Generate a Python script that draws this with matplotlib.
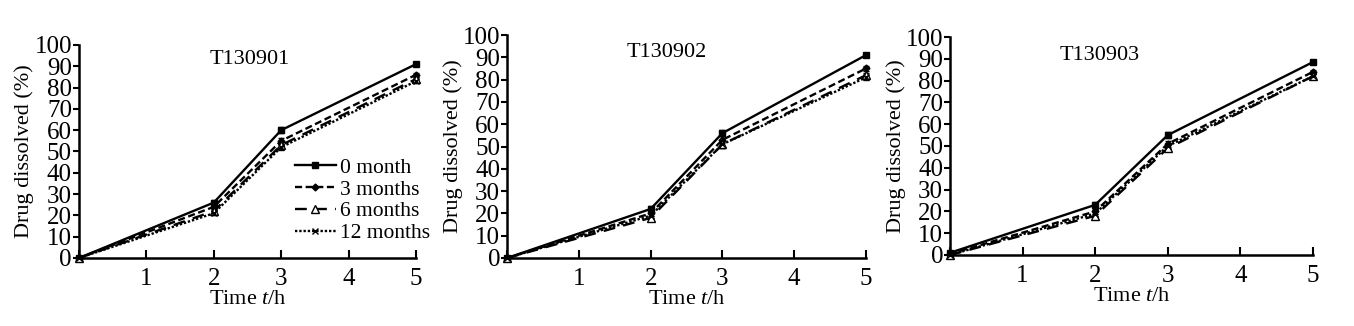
import matplotlib.pyplot as plt
from matplotlib.lines import Line2D

plt.rcParams['font.family'] = 'Liberation Serif'
plt.rcParams['mathtext.fontset'] = 'custom'
plt.rcParams['mathtext.it'] = 'Liberation Serif:italic'
plt.rcParams['mathtext.rm'] = 'Liberation Serif'

time_h = [0, 2, 3, 5]
series_names = ['0 month', '3 months', '6 months', '12 months']
batches = ['T130901', 'T130902', 'T130903']

# dissolved % per batch, per storage time
t130901_0m = [0, 26, 60, 91]
t130901_3m = [0, 24, 55, 86]
t130901_6m = [0, 22, 53, 84]
t130901_12m = [0, 21, 52, 83]

t130902_0m = [0, 22, 56, 91]
t130902_3m = [0, 20, 53, 85]
t130902_6m = [0, 18, 51, 82]
t130902_12m = [0, 19, 51, 81]

t130903_0m = [1, 23, 55, 88.5]
t130903_3m = [0.5, 20, 51, 84]
t130903_6m = [0, 18, 49, 82]
t130903_12m = [0, 19, 50, 82]

# error bar half-widths
err_0m = [0.5, 1.2, 1.5, 1.0]
err_3m = [0.5, 1.0, 1.5, 1.0]
err_6m = [0.5, 1.0, 1.5, 1.0]
err_12m = [0.5, 1.0, 1.5, 1.0]

data = {
    'T130901': [t130901_0m, t130901_3m, t130901_6m, t130901_12m],
    'T130902': [t130902_0m, t130902_3m, t130902_6m, t130902_12m],
    'T130903': [t130903_0m, t130903_3m, t130903_6m, t130903_12m],
}
errs = [err_0m, err_3m, err_6m, err_12m]

styles = [
    dict(linestyle='-', marker='s', mfc='black', ms=5),
    dict(linestyle=(0, (3, 1.5)), marker='D', mfc='black', ms=3.5),
    dict(linestyle=(0, (5, 3.5)), marker='^', mfc='white', ms=6),
    dict(linestyle=(0, (1, 0.8)), marker='x', mfc='black', ms=5),
]

positions = [
    [0.0583, 0.2086, 0.2489, 0.6534],
    [0.3745, 0.2086, 0.2651, 0.6840],
    [0.7016, 0.2178, 0.2681, 0.6687],
]
title_xy = [(0.506, 0.93), (0.446, 0.92), (0.413, 0.917)]

fig = plt.figure(figsize=(13.54, 3.26), dpi=100)

for i, batch in enumerate(batches):
    ax = fig.add_axes(positions[i])
    for vals, err, name, st in zip(data[batch], errs, series_names, styles):
        ax.errorbar(time_h, vals, yerr=err, color='black', lw=1.7,
                    linestyle=st['linestyle'], marker=st['marker'],
                    markerfacecolor=st['mfc'], markeredgecolor='black',
                    markersize=st['ms'], capsize=2.5, elinewidth=1,
                    clip_on=False)
    ax.set_xlim(0, 5)
    ax.set_ylim(0, 100)
    ax.set_xticks([0, 1, 2, 3, 4, 5])
    ax.set_xticklabels(['', '1', '2', '3', '4', '5'])
    ax.set_yticks(range(0, 101, 10))
    ax.spines['top'].set_visible(False)
    ax.spines['right'].set_visible(False)
    ax.spines['left'].set_linewidth(1.8)
    ax.spines['bottom'].set_linewidth(1.8)
    ax.tick_params(axis='x', direction='in', length=6, width=1.5, labelsize=18, pad=7)
    ax.tick_params(axis='y', direction='out', length=4, width=1.5, labelsize=18, pad=1)
    ax.set_xlabel('Time $t$/h', fontsize=16, labelpad=0)
    ax.set_ylabel('Drug dissolved (%)', fontsize=16, labelpad=0)
    ax.text(title_xy[i][0], title_xy[i][1], batch, transform=ax.transAxes,
            fontsize=16, ha='center', va='center')
    if i == 0:
        handles = [Line2D([], [], color='black', lw=1.7, linestyle=st['linestyle'],
                          marker=st['marker'], markerfacecolor=st['mfc'],
                          markeredgecolor='black', markersize=st['ms'])
                   for st in styles]
        ax.legend(handles, series_names, loc='center left',
                  bbox_to_anchor=(0.64, 0.27), frameon=False,
                  fontsize=15.5, handlelength=1.9, handletextpad=0.2,
                  labelspacing=0.08, borderpad=0, borderaxespad=0)

fig.savefig('out.png', dpi=100, facecolor='white')
